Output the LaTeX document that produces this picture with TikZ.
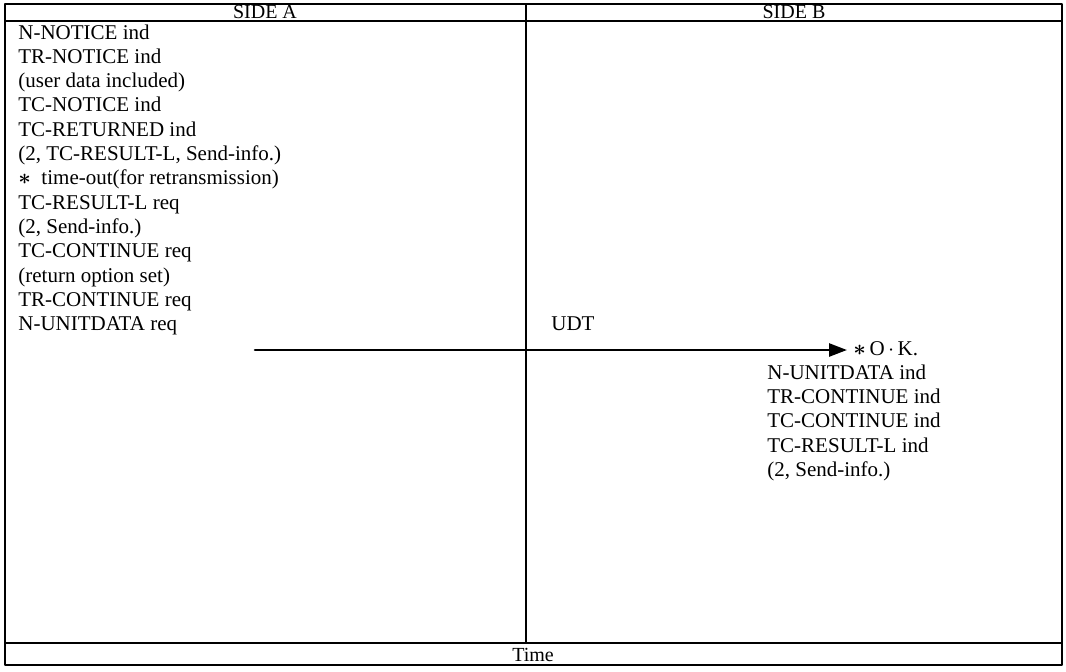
\documentclass[tikz,border=0pt]{standalone}
\usepackage{fontspec}
\setmainfont{Liberation Serif}
\usepackage{tikz}
\usetikzlibrary{arrows.meta}
\usetikzlibrary{positioning}

\tikzset{
  msg/.style={anchor=base west,inner sep=0pt,font=\fontsize{10.5}{12}\selectfont},
  head/.style={inner sep=0pt,font=\fontsize{10}{12}\selectfont},
  frame/.style={line width=.6pt,color=black},
}

\begin{document}
\begin{tikzpicture}[line cap=round,line join=round,x=0.5pt,y=-0.5pt]
\useasboundingbox (0,0) rectangle (1066,671);
% table frame
\draw[frame] (5,4) rectangle (1062,665);
\draw[frame] (5,21) -- (1062,21);
\draw[frame] (5,643) -- (1062,643);
\draw[frame] (526,4) -- (526,643);
\draw (265,12) node[head] (sideA) {SIDE A};
\draw (794,12) node[head] (sideB) {SIDE B};
\draw (533,655) node[head] (time) {Time};

% side A
\node[msg] (a1) at (18,39) {N-NOTICE ind};
\node[msg] (a2) at (18,63.3) {TR-NOTICE ind};
\node[msg] (a3) at (18,87.6) {(user data included)};
\node[msg] (a4) at (18,111.9) {TC-NOTICE ind};
\node[msg] (a5) at (18,136.2) {TC-RETURNED ind};
\node[msg] (a6) at (18,160.5) {(2, TC-RESULT-L, Send-info.)};
\node[msg] (a7) at (18,184.8) {{\boldmath$\ast$}\ \ time-out(for retransmission)};
\node[msg] (a8) at (18,209.1) {TC-RESULT-L req};
\node[msg] (a9) at (18,233.4) {(2, Send-info.)};
\node[msg] (a10) at (18,257.7) {TC-CONTINUE req};
\node[msg] (a11) at (18,282) {(return option set)};
\node[msg] (a12) at (18,306.3) {TR-CONTINUE req};
\node[msg] (a13) at (18,330.6) {N-UNITDATA req};

% side B
\node[msg] (udt) at (551,330.6) {UDT};
\node[msg] (ok) at (853,355) {{\boldmath$\ast$}\,O\,$\cdot$\,K.};
\node[msg] (b1) at (767,379.3) {N-UNITDATA ind};
\node[msg] (b2) at (767,403.6) {TR-CONTINUE ind};
\node[msg] (b3) at (767,427.9) {TC-CONTINUE ind};
\node[msg] (b4) at (767,452.2) {TC-RESULT-L ind};
\node[msg] (b5) at (767,476.5) {(2, Send-info.)};

% message
\coordinate (start) at (255,350);
\coordinate (stop) at ([xshift=-3pt]ok.west);
\draw[line width=1.3pt,-{Triangle[length=9pt,width=6.5pt]}] (start) -- (stop |- start);
\end{tikzpicture}
\end{document}
